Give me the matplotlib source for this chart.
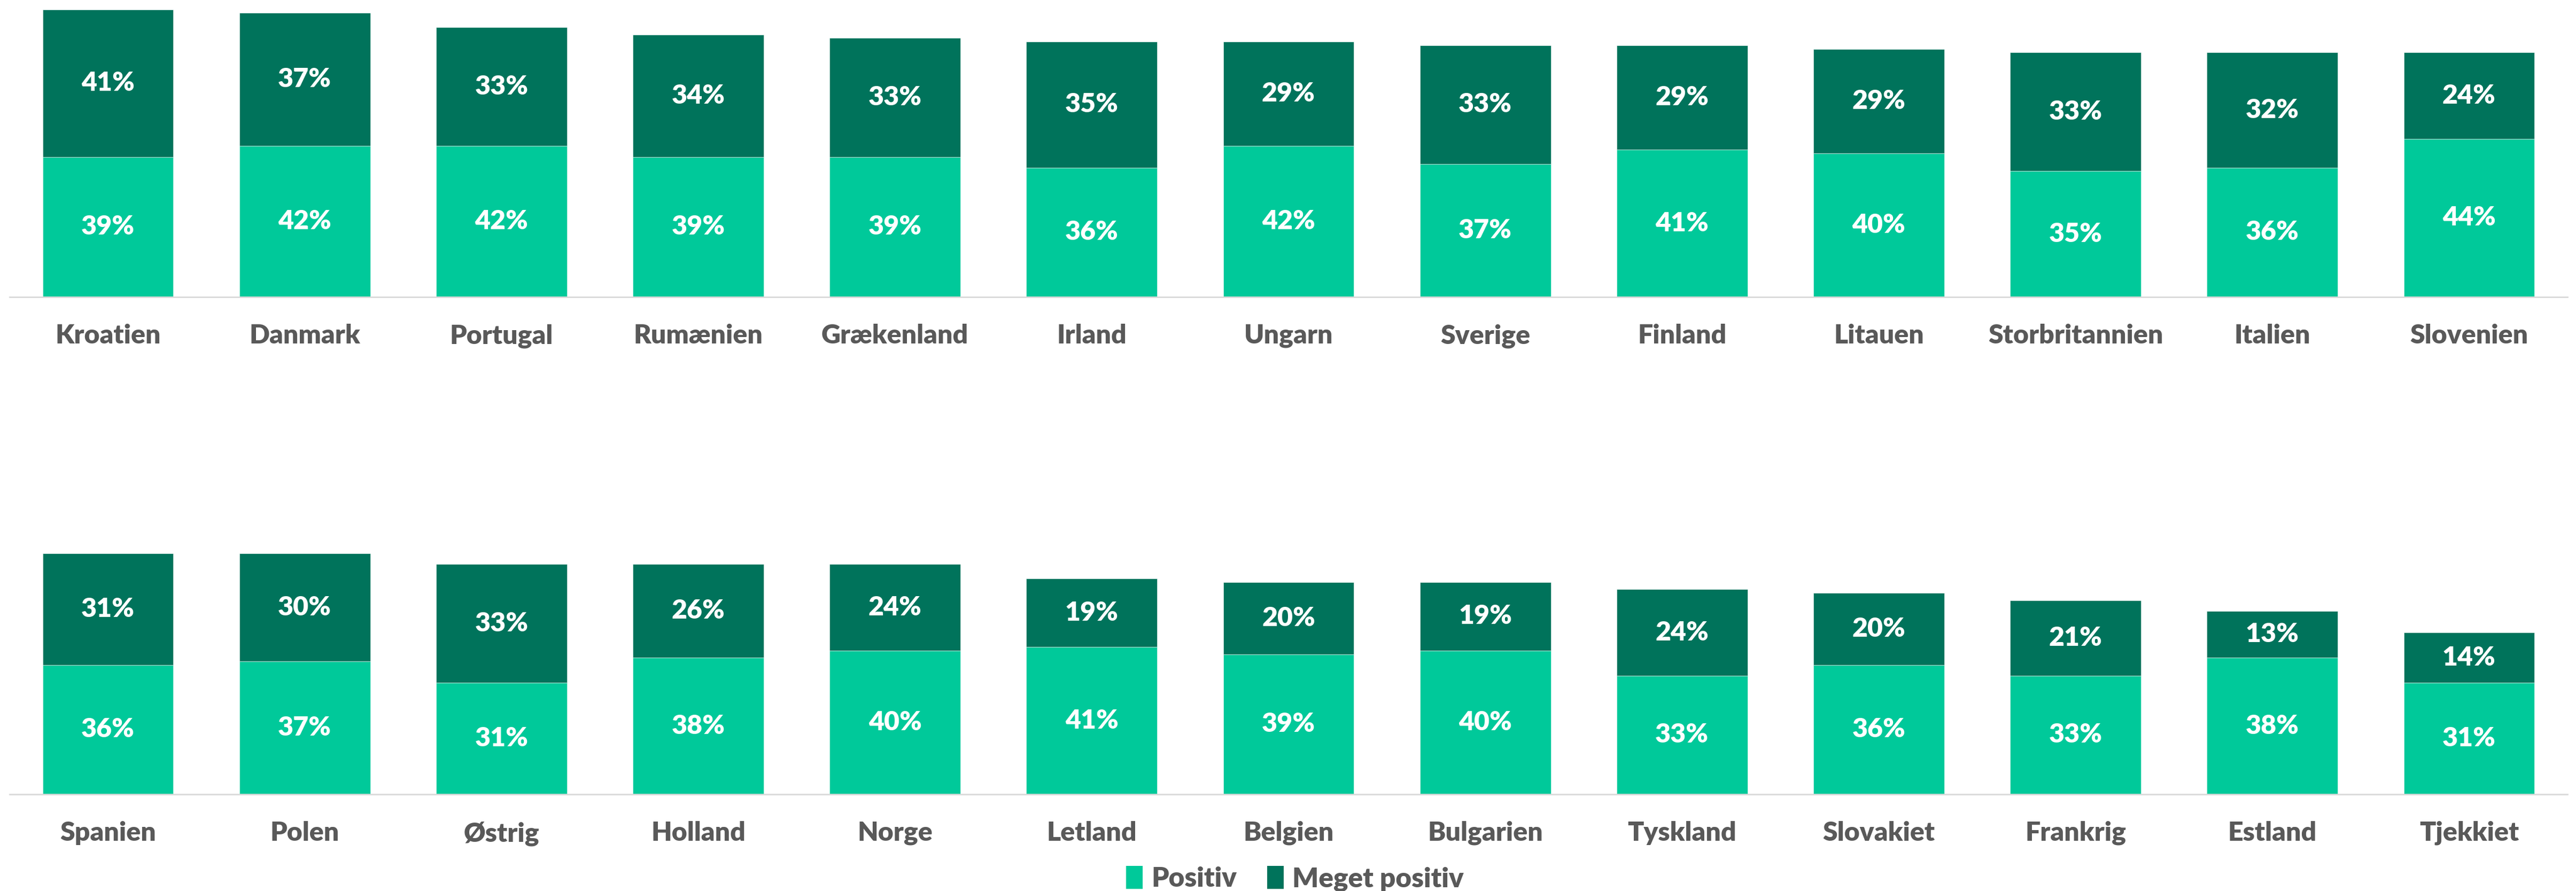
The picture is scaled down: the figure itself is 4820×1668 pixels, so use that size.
import numpy as np
import matplotlib.pyplot as plt
from matplotlib.patches import Patch

# --------------------------------------------------
# Data
# --------------------------------------------------
top_countries = ["Kroatien", "Danmark", "Portugal", "Rumænien", "Grækenland", "Irland",
                 "Ungarn", "Sverige", "Finland", "Litauen", "Storbritannien", "Italien",
                 "Slovenien"]
top_positiv = [39, 42, 42, 39, 39, 36, 42, 37, 41, 40, 35, 36, 44]
top_meget = [41, 37, 33, 34, 33, 35, 29, 33, 29, 29, 33, 32, 24]

bottom_countries = ["Spanien", "Polen", "Østrig", "Holland", "Norge", "Letland", "Belgien",
                    "Bulgarien", "Tyskland", "Slovakiet", "Frankrig", "Estland", "Tjekkiet"]
bottom_positiv = [36, 37, 31, 38, 40, 41, 39, 40, 33, 36, 33, 38, 31]
bottom_meget = [31, 30, 33, 26, 24, 19, 20, 19, 24, 20, 21, 13, 14]

series_names = ["Positiv", "Meget positiv"]

c_pos = "#00C99A"
c_meget = "#00735B"
grey = "#595959"

plt.rcParams['font.family'] = ['Lato', 'DejaVu Sans']

W, H = 4820, 1668
fig = plt.figure(figsize=(W / 100, H / 100), dpi=100)

ymax = 82
px_per_pct = 6.73


def draw_panel(bottom_px, countries, pos, meget):
    height_px = ymax * px_per_pct
    ax = fig.add_axes([18 / W, (H - bottom_px) / H, (4804 - 18) / W, height_px / H])
    x = np.arange(len(countries))
    ax.bar(x, pos, width=0.665, color=c_pos, edgecolor="white", linewidth=0.4)
    ax.bar(x, meget, bottom=pos, width=0.665, color=c_meget, edgecolor="white", linewidth=0.4)
    for xi, p, m in zip(x, pos, meget):
        ax.text(xi, p / 2, f"{p}%", ha="center", va="center", color="white",
                fontsize=36, fontweight="heavy")
        ax.text(xi, p + m / 2, f"{m}%", ha="center", va="center", color="white",
                fontsize=36, fontweight="heavy")
    ax.set_xlim(-0.5, len(countries) - 0.5)
    ax.set_ylim(0, ymax)
    ax.set_xticks(x)
    ax.set_xticklabels(countries, fontsize=36, fontweight="heavy", color=grey)
    ax.tick_params(axis="x", length=0, pad=36)
    ax.set_yticks([])
    for s in ["top", "left", "right"]:
        ax.spines[s].set_visible(False)
    ax.spines["bottom"].set_color("#D9D9D9")
    ax.spines["bottom"].set_linewidth(2)
    return ax


draw_panel(556, top_countries, top_positiv, top_meget)
draw_panel(1487, bottom_countries, bottom_positiv, bottom_meget)

handles = [Patch(facecolor=c_pos, label=series_names[0]),
           Patch(facecolor=c_meget, label=series_names[1])]
fig.legend(handles=handles, loc="center", bbox_to_anchor=(2423 / W, 1 - 1645 / H),
           ncol=2, frameon=False, handlelength=0.6, handleheight=0.92,
           handletextpad=0.32, columnspacing=1.1, labelcolor=grey,
           prop={"size": 37, "weight": "heavy"})

fig.savefig("out.png", dpi=100)
